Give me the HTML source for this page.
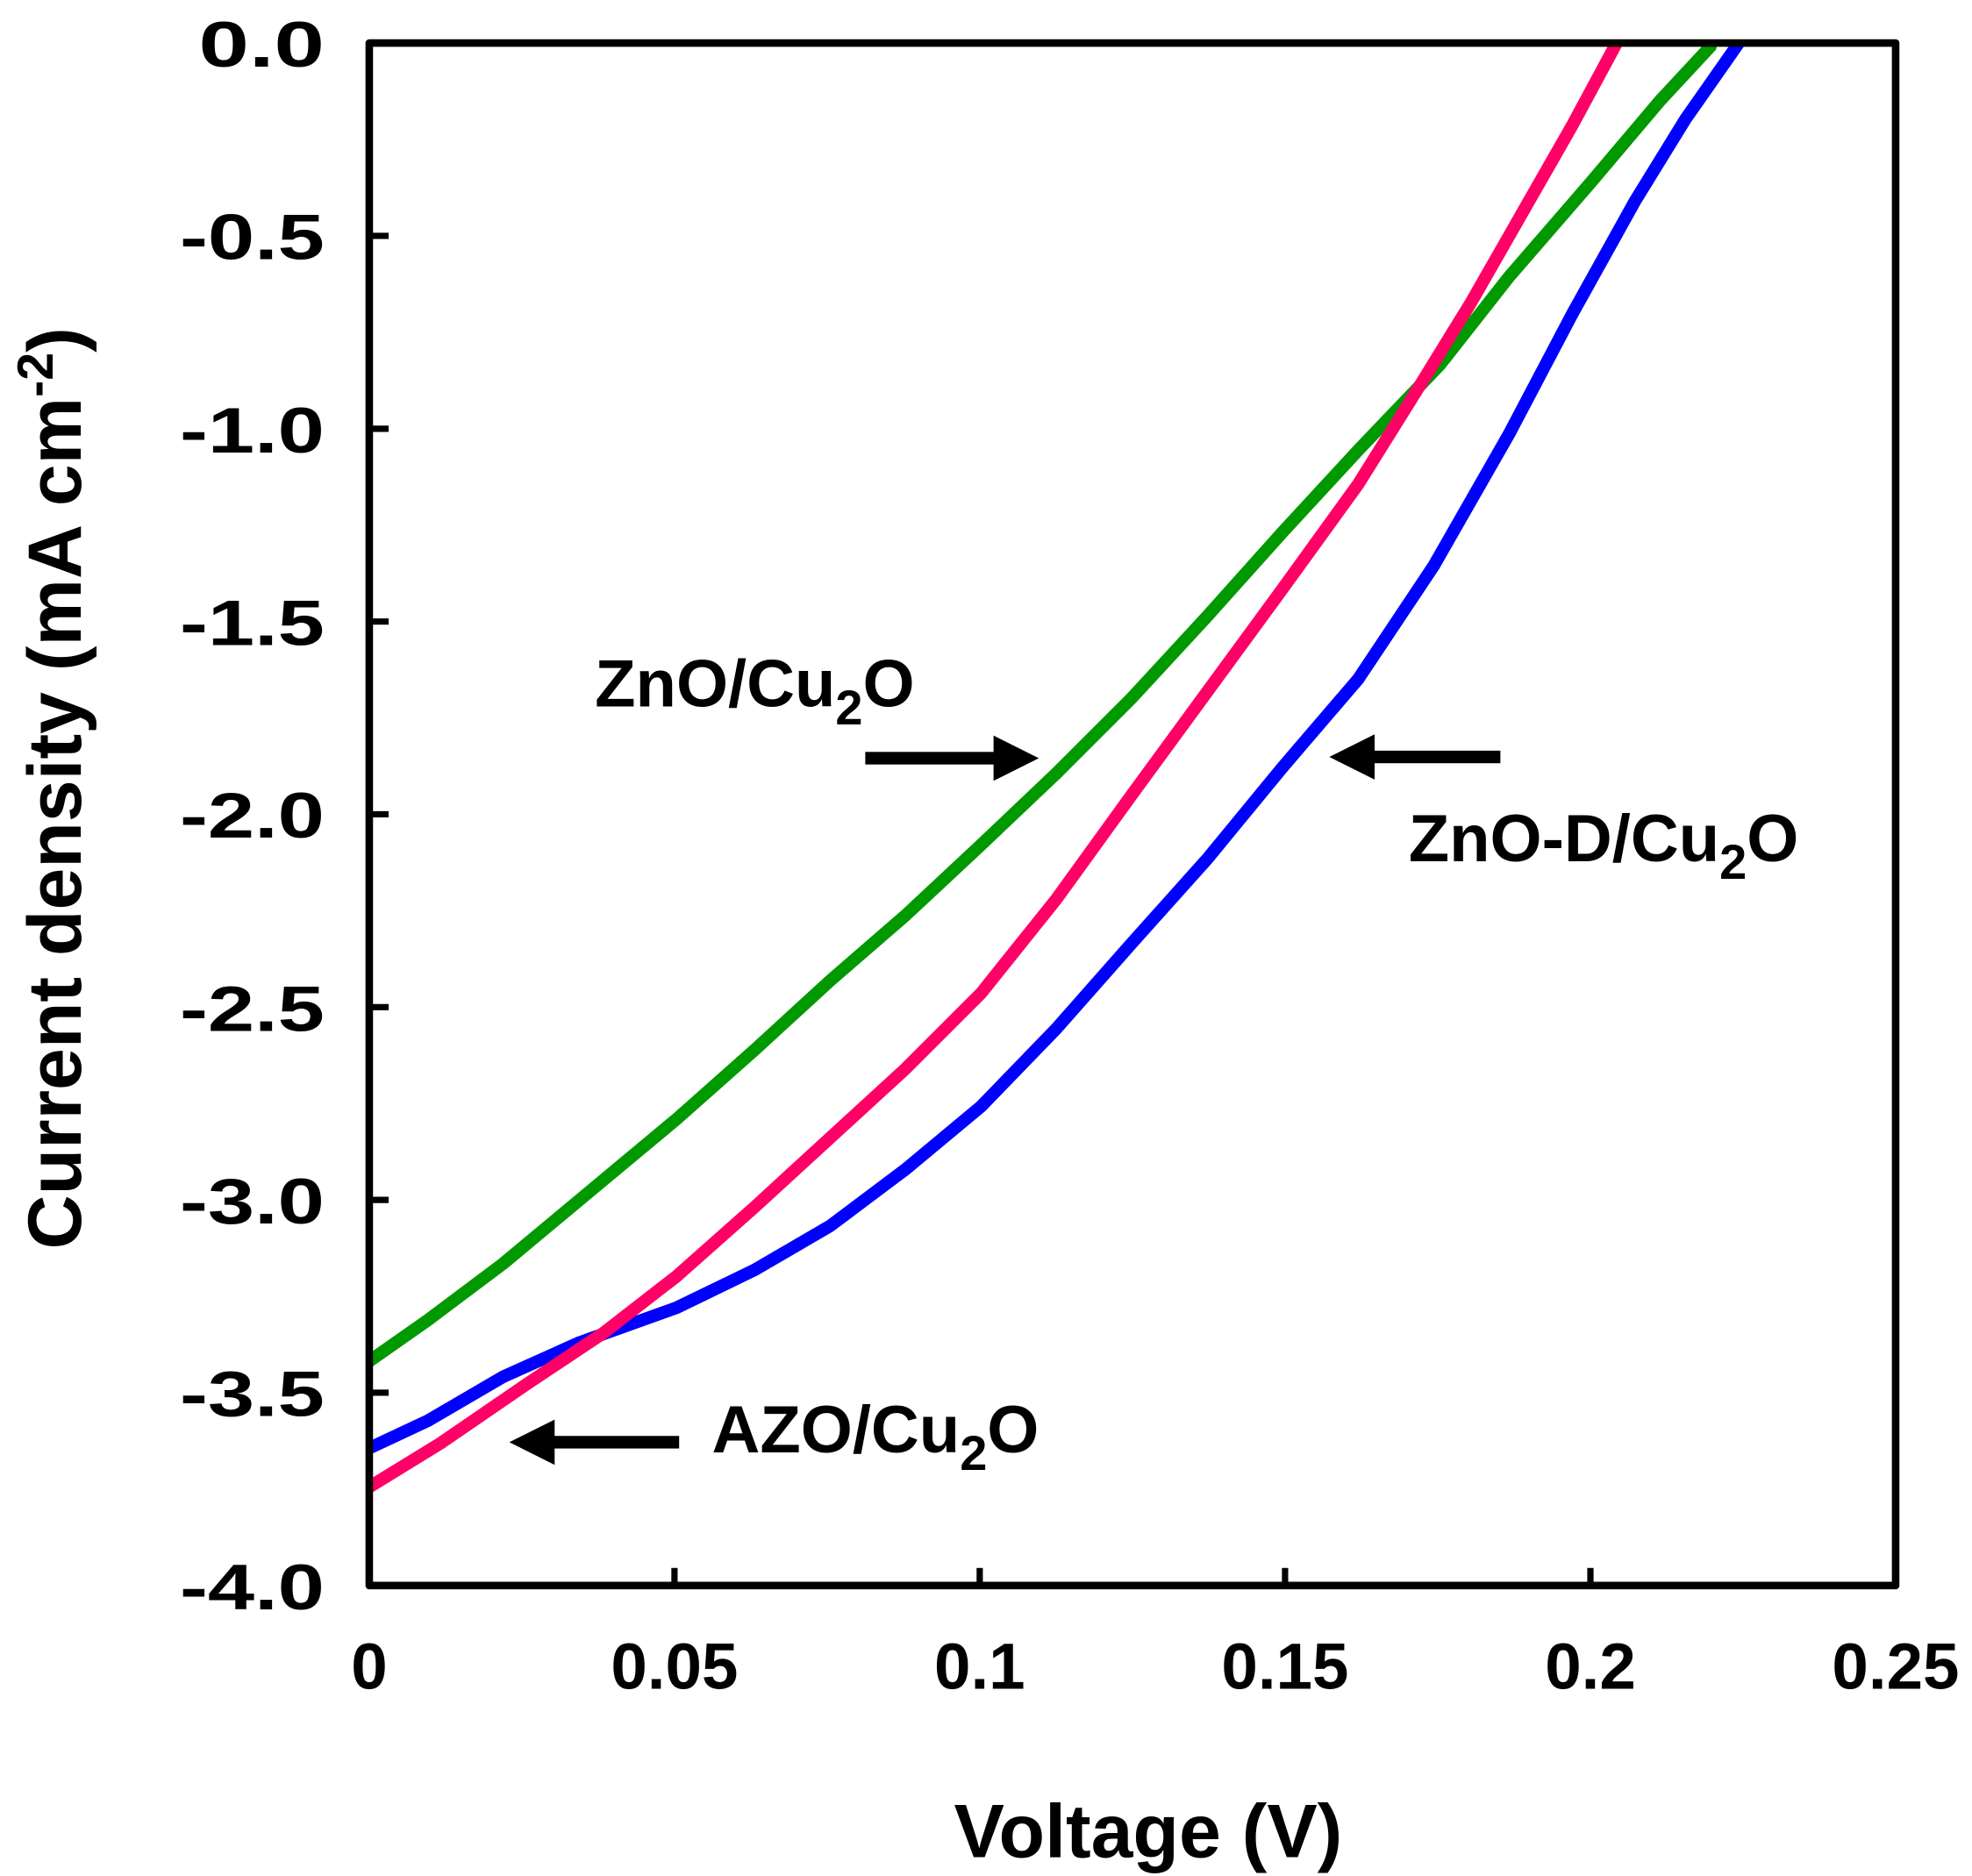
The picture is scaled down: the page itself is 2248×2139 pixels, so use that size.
<!DOCTYPE html>
<html><head><meta charset="utf-8"><style>html,body{margin:0;padding:0;background:#fff}svg{display:block}</style></head>
<body>
<svg width="2248" height="2139" viewBox="0 0 1568 1492" xmlns="http://www.w3.org/2000/svg" font-family="Liberation Sans, Arial, sans-serif" font-weight="bold">
<rect width="1568" height="1492" fill="#fff"/>
<g fill="none" stroke-width="10" stroke-linejoin="round" stroke-linecap="round">
<polyline stroke="#009900" points="293,1083 340,1050 400,1005 460,955 538,890 600,835 660,780 720,728 780,672 840,615 900,555 960,490 1020,423 1080,358 1145,290 1200,220 1265,145 1320,80 1360,37"/>
<polyline stroke="#0000ff" points="293,1152 340,1130 400,1095 460,1068 538,1040 600,1010 660,975 720,930 780,880 840,818 900,750 960,683 1020,610 1080,540 1140,450 1200,345 1250,250 1300,160 1340,95 1382,35"/>
<polyline stroke="#ff0066" points="293,1183 350,1148 420,1100 480,1060 538,1015 600,960 660,905 720,850 780,790 840,715 900,632 960,550 1020,468 1080,385 1130,305 1170,240 1210,170 1250,100 1285,35"/>
</g>
<rect x="0" y="0" width="293" height="1492" fill="#fff"/>
<rect x="293" y="0" width="1275" height="34" fill="#fff"/>
<rect x="293.6" y="34.2" width="1213.7" height="1226.8" fill="none" stroke="#000" stroke-width="6" stroke-linejoin="round"/>
<g stroke="#000" stroke-width="5">
<line x1="293.6" y1="187.6" x2="309" y2="187.6"/><line x1="293.6" y1="341" x2="309" y2="341"/>
<line x1="293.6" y1="494.3" x2="309" y2="494.3"/><line x1="293.6" y1="647.6" x2="309" y2="647.6"/>
<line x1="293.6" y1="801" x2="309" y2="801"/><line x1="293.6" y1="954.3" x2="309" y2="954.3"/>
<line x1="293.6" y1="1107.6" x2="309" y2="1107.6"/>
<line x1="536.3" y1="1261" x2="536.3" y2="1247"/><line x1="779" y1="1261" x2="779" y2="1247"/>
<line x1="1021.8" y1="1261" x2="1021.8" y2="1247"/><line x1="1264.6" y1="1261" x2="1264.6" y2="1247"/>
</g>
<g font-size="51" fill="#000" lengthAdjust="spacingAndGlyphs">
<text x="158" y="53" textLength="100" lengthAdjust="spacingAndGlyphs">0.0</text>
<text x="143" y="206" textLength="115" lengthAdjust="spacingAndGlyphs">-0.5</text>
<text x="143" y="360" textLength="115" lengthAdjust="spacingAndGlyphs">-1.0</text>
<text x="143" y="513" textLength="115" lengthAdjust="spacingAndGlyphs">-1.5</text>
<text x="143" y="666" textLength="115" lengthAdjust="spacingAndGlyphs">-2.0</text>
<text x="143" y="820" textLength="115" lengthAdjust="spacingAndGlyphs">-2.5</text>
<text x="143" y="973" textLength="115" lengthAdjust="spacingAndGlyphs">-3.0</text>
<text x="143" y="1126" textLength="115" lengthAdjust="spacingAndGlyphs">-3.5</text>
<text x="143" y="1280" textLength="115" lengthAdjust="spacingAndGlyphs">-4.0</text>
</g>
<g font-size="52" text-anchor="middle" fill="#000">
<text x="293.6" y="1343">0</text><text x="536.3" y="1343">0.05</text><text x="779" y="1343">0.1</text>
<text x="1021.8" y="1343">0.15</text><text x="1264.6" y="1343">0.2</text><text x="1507.3" y="1343">0.25</text>
</g>
<text x="913" y="1477" font-size="60" text-anchor="middle">Voltage (V)</text>
<text transform="translate(64,627) rotate(-90)" font-size="60" text-anchor="middle">Current density (mA cm<tspan font-size="40" dy="-22">-2</tspan><tspan dy="22">)</tspan></text>
<g font-size="53" fill="#000">
<text x="473" y="562">ZnO/Cu<tspan font-size="39" dy="14">2</tspan><tspan dy="-14">O</tspan></text>
<text x="1120" y="685">ZnO-D/Cu<tspan font-size="39" dy="14">2</tspan><tspan dy="-14">O</tspan></text>
<text x="566" y="1155">AZO/Cu<tspan font-size="39" dy="14">2</tspan><tspan dy="-14">O</tspan></text>
</g>
<g fill="#000">
<rect x="688" y="598" width="106" height="10"/><polygon points="790,585 826,603 790,621"/>
<rect x="1090" y="597" width="103" height="10"/><polygon points="1093,584 1057,602 1093,620"/>
<rect x="438" y="1142" width="102" height="10"/><polygon points="441,1129 405,1147 441,1165"/>
</g>
</svg>
</body></html>
